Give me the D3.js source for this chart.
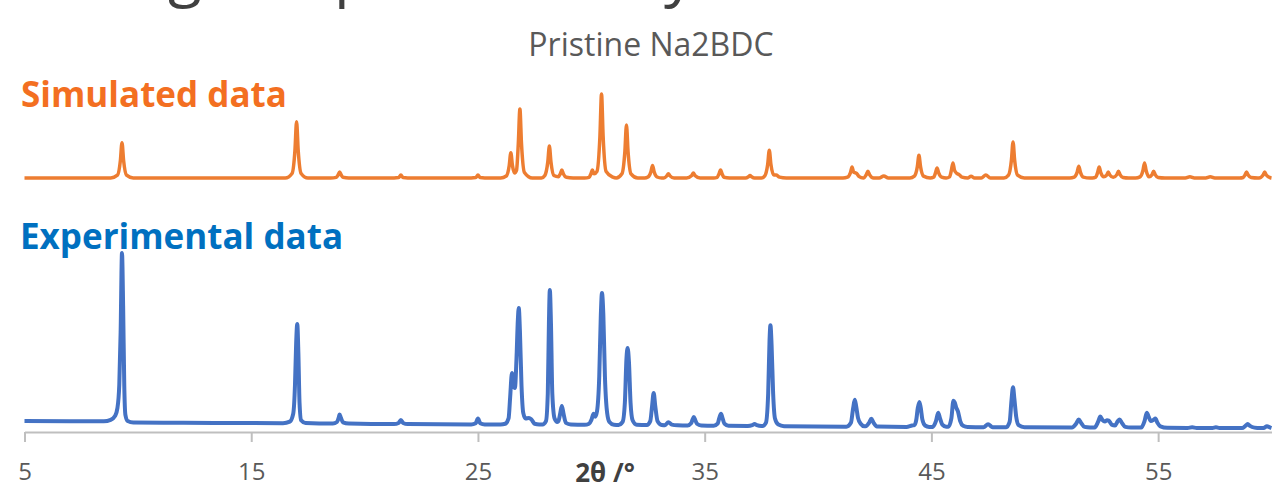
<!DOCTYPE html>
<html>
<head>
<meta charset="utf-8">
<script src="https://cdn.jsdelivr.net/npm/d3@7"></script>
<style>
  html, body { margin: 0; padding: 0; background: #fff; }
  svg { display: block; }
</style>
</head>
<body>
<svg id="chart" width="1273" height="491"></svg>
<script>
// ---- Data ----
const xTicks = [5, 15, 25, 35, 45, 55];
const xLabel = "2θ /°";
const chartTitle = "Pristine Na2BDC";
const seriesNames = ["Simulated data", "Experimental data"];
const headingFragments = ["g", "p", "y"]; // descenders of the slide heading, cut by the top edge

// Simulated pattern: [2θ, relative intensity 0..100]
const simulated = [
  [5,0],
  [8.8,0],[9.1,3.4],[9.23,21],[9.3,42],[9.37,21],[9.5,3.4],[9.8,0],
  [16.5,0],[16.8,5.4],[16.93,33.5],[17.0,67],[17.07,33.5],[17.2,5.4],[17.5,0],
  [18.5,0],[18.75,0.8],[18.83,3.5],[18.9,7],[18.97,3.5],[19.05,0.8],[19.3,0],
  [21.3,0],[21.5,0.5],[21.6,3.5],[21.7,0.5],[21.9,0],
  [24.7,0],[24.9,0.5],[25.0,3.5],[25.1,0.5],[25.3,0],
  [26.0,0],[26.25,2.4],[26.38,15],[26.45,30],[26.52,15],[26.62,6],[26.7,9],[26.78,41],[26.85,82],[26.92,41],[27.05,6.6],[27.4,0],
  [27.8,0],[27.95,3],[28.08,19],[28.15,38],[28.22,19],[28.35,3],[28.55,1.5],[28.63,4.8],[28.7,9.5],[28.77,4.8],[28.9,0.8],[29.2,0],
  [29.7,0],[29.9,0.8],[29.98,4.8],[30.05,9.5],[30.12,5],[30.25,8],[30.38,50],[30.45,100],[30.52,50],[30.65,8],[30.95,1],
  [31.1,0],[31.35,5],[31.48,31.5],[31.55,63],[31.62,31.5],[31.75,5],[32.05,0],
  [32.35,0],[32.5,1.2],[32.63,7.5],[32.7,15],[32.77,7.5],[32.9,1.2],[33.1,0],
  [33.2,0],[33.33,2.5],[33.4,5],[33.47,2.5],[33.65,0],
  [34.2,0],[34.43,3],[34.5,6],[34.57,3],[34.8,0],
  [35.4,0],[35.55,0.8],[35.63,4.8],[35.7,9.5],[35.77,4.8],[35.85,0.8],[36.1,0],
  [36.8,0],[36.93,1.5],[37.0,3],[37.07,1.5],[37.2,0],
  [37.5,0],[37.65,2.6],[37.78,16.5],[37.85,33],[37.92,16.5],[38.05,3.5],[38.15,3.5],[38.3,1],[38.6,0],
  [41.1,0],[41.3,1],[41.43,6.5],[41.5,13],[41.57,7],[41.7,5.5],[41.8,2],[42.0,0],
  [42.13,4],[42.2,8],[42.27,4],[42.45,0],
  [42.7,0],[42.9,2.5],[43.1,0],
  [44.05,0],[44.25,2.2],[44.38,13.5],[44.45,27],[44.52,13.5],[44.65,2.2],[44.95,0],
  [45.1,1],[45.18,6],[45.25,12],[45.32,6],[45.45,1],[45.65,0],
  [45.8,1.4],[45.88,9],[45.95,18],[46.02,9],[46.12,5.5],[46.22,4],[46.35,1],[46.6,0],
  [46.75,2],[46.9,0],
  [47.2,0],[47.4,3.5],[47.6,0],
  [48.2,0],[48.4,3.4],[48.53,21.5],[48.6,43],[48.67,21.5],[48.8,3.4],[49.1,0],
  [51.1,0],[51.3,1.1],[51.43,7],[51.5,14],[51.57,7],[51.7,1.1],[52.0,0],
  [52.1,0],[52.25,1],[52.33,6.5],[52.4,13],[52.47,6.5],[52.6,1.5],[52.73,3.5],[52.8,7],[52.87,3.5],[53.02,0.8],[53.18,4],[53.25,8],[53.32,4],[53.45,0.6],[53.7,0],
  [54.0,0],[54.2,1.4],[54.33,9],[54.4,18],[54.47,9],[54.6,1.5],[54.73,4],[54.8,8],[54.87,4],[55.0,0.6],[55.3,0],
  [56.2,0],[56.4,1.5],[56.6,0],
  [57.1,0],[57.3,1.5],[57.5,0],
  [58.6,0],[58.75,0.6],[58.83,3.5],[58.9,7],[58.97,3.5],[59.1,0.6],[59.4,0],
  [59.45,0],[59.63,3.5],[59.7,7],[59.77,3.5],[59.95,0.3],[60,0]
];

// Experimental pattern: [2θ, counts 0..1000]
const experimental = [
  [5,45],[7,44],[8.5,44],[8.8,52],[9.0,75],[9.1,120],[9.18,250],[9.24,550],[9.3,1000],[9.35,700],[9.4,250],[9.45,80],[9.55,45],[9.8,37],
  [12,35],[16.4,33],[16.7,42],[16.85,85],[16.93,250],[16.98,480],[17.03,597],[17.08,430],[17.13,150],[17.2,50],[17.4,34],
  [18.6,31],[18.78,40],[18.86,65],[18.9,82],[18.95,65],[19.05,38],[19.3,31],
  [21.3,28],[21.5,34],[21.6,51],[21.7,34],[21.9,28],
  [24.7,26],[24.9,33],[25.0,60],[25.1,33],[25.3,26],
  [26.0,26],[26.2,30],[26.35,60],[26.42,180],[26.5,318],[26.58,245],[26.63,233],[26.7,400],[26.76,620],[26.8,688],[26.85,560],[26.92,250],[27.0,90],[27.1,60],[27.25,62],[27.35,55],[27.5,30],[27.7,26],
  [27.85,26],[28.0,45],[28.08,200],[28.13,600],[28.17,790],[28.22,600],[28.28,200],[28.38,60],[28.5,40],
  [28.55,45],[28.63,90],[28.7,131],[28.77,90],[28.88,35],[29.1,26],
  [29.7,24],[29.9,30],[30.0,50],[30.1,86],[30.17,70],[30.25,100],[30.35,300],[30.42,650],[30.47,773],[30.53,650],[30.6,300],[30.7,90],[30.8,40],[31.0,24],
  [31.2,23],[31.38,40],[31.48,150],[31.55,400],[31.6,460],[31.66,380],[31.73,150],[31.82,50],[32.0,24],
  [32.45,23],[32.6,45],[32.68,130],[32.75,205],[32.82,130],[32.92,45],[33.1,23],
  [33.25,22],[33.4,39],[33.55,25],[33.8,21],
  [34.25,20],[34.4,32],[34.46,52],[34.52,68],[34.58,52],[34.66,30],[34.85,20],
  [35.4,18],[35.57,30],[35.65,65],[35.72,86],[35.78,65],[35.87,30],[36.05,18],
  [36.9,17],[37.1,22],[37.2,28],[37.3,22],[37.5,17],
  [37.55,17],[37.7,35],[37.8,200],[37.86,500],[37.9,590],[37.95,480],[38.02,200],[38.1,60],[38.25,25],[38.5,16],
  [41.25,13],[41.45,35],[41.55,120],[41.62,166],[41.68,130],[41.76,65],[41.88,30],[42.05,15],
  [42.1,15],[42.25,35],[42.35,58],[42.45,35],[42.6,14],
  [43.9,12],[44.15,20],[44.25,22],[44.33,50],[44.4,120],[44.47,154],[44.53,120],[44.6,55],[44.72,20],[44.9,12],
  [45.05,12],[45.2,45],[45.3,92],[45.38,60],[45.48,25],[45.65,13],
  [45.75,13],[45.88,60],[45.97,160],[46.03,150],[46.1,120],[46.17,100],[46.27,45],[46.4,18],[46.6,11],
  [47.3,10],[47.5,27],[47.7,10],
  [48.3,10],[48.45,40],[48.53,160],[48.6,237],[48.66,170],[48.74,70],[48.85,22],[49.1,10],
  [51.2,9],[51.38,30],[51.5,54],[51.6,35],[51.75,12],[52.0,9],
  [52.2,9],[52.35,40],[52.45,71],[52.55,50],[52.65,42],[52.75,50],[52.82,48],[52.95,25],[53.1,20],[53.22,45],[53.3,54],[53.4,35],[53.55,12],[53.8,8],
  [54.25,8],[54.4,45],[54.5,93],[54.58,70],[54.68,45],[54.8,52],[54.88,59],[54.97,35],[55.1,15],[55.4,7],
  [56.3,6],[56.5,10],[56.7,6],[57.4,6],[57.55,10],[57.7,6],
  [58.7,5],[58.85,18],[58.95,28],[59.05,18],[59.25,8],[59.5,5],
  [59.65,6],[59.8,16],[59.95,8],[60,6]
];

// ---- Drawing ----
const svg = d3.select("#chart");
const font = "'Open Sans', 'Noto Sans', sans-serif";

const x = d3.scaleLinear().domain([5, 60]).range([24.5, 1271.5]);
const ySim = d3.scaleLinear().domain([0, 100]).range([178, 94]);
const yExp = d3.scaleLinear().domain([0, 1000]).range([429, 253]);

// cropped slide heading fragments at the very top (only descenders show)
const fragX = [168, 334, 664];
svg.append("g").attr("fill", "#404040")
  .style("font-family", font).style("font-size", "62px")
  .selectAll("text").data(headingFragments).join("text")
  .attr("x", (d, i) => fragX[i]).attr("y", -6)
  .text(d => d);

// chart title
svg.append("text")
  .attr("x", 651).attr("y", 56)
  .attr("text-anchor", "middle")
  .attr("fill", "#595959")
  .style("font-family", font).style("font-size", "32px")
  .text(chartTitle);

// series labels
svg.append("text")
  .attr("x", 21).attr("y", 107)
  .attr("fill", "#F36F21")
  .style("font-family", font).style("font-size", "35px").style("font-weight", "bold")
  .text(seriesNames[0]);
svg.append("text")
  .attr("x", 20).attr("y", 249)
  .attr("fill", "#0070C0")
  .style("font-family", font).style("font-size", "35px").style("font-weight", "bold")
  .text(seriesNames[1]);

// x axis
const axis = d3.axisBottom(x).tickValues(xTicks).tickSize(10).tickSizeOuter(0).tickPadding(0)
  .tickFormat(d3.format("d"));
const gx = svg.append("g").attr("transform", "translate(0,432)").call(axis);
gx.select(".domain").attr("stroke", "#BFBFBF").attr("stroke-width", 2);
gx.selectAll(".tick line").attr("stroke", "#BFBFBF").attr("stroke-width", 2);
gx.selectAll(".tick text").attr("fill", "#595959")
  .attr("y", 48).attr("dy", null)
  .style("font-family", font).style("font-size", "24px");

svg.append("text")
  .attr("x", 605).attr("y", 482)
  .attr("text-anchor", "middle")
  .attr("fill", "#404040")
  .style("font-family", font).style("font-size", "26px").style("font-weight", "bold")
  .text(xLabel);

// lines
const lineSim = d3.line().x(d => x(d[0])).y(d => ySim(d[1])).curve(d3.curveMonotoneX);
const lineExp = d3.line().x(d => x(d[0])).y(d => yExp(d[1])).curve(d3.curveMonotoneX);

svg.append("path").datum(simulated)
  .attr("d", lineSim).attr("fill", "none")
  .attr("stroke", "#ED7D31").attr("stroke-width", 3.5).attr("stroke-linejoin", "round");
svg.append("path").datum(experimental)
  .attr("d", lineExp).attr("fill", "none")
  .attr("stroke", "#4472C4").attr("stroke-width", 4).attr("stroke-linejoin", "round");
</script>
</body>
</html>
